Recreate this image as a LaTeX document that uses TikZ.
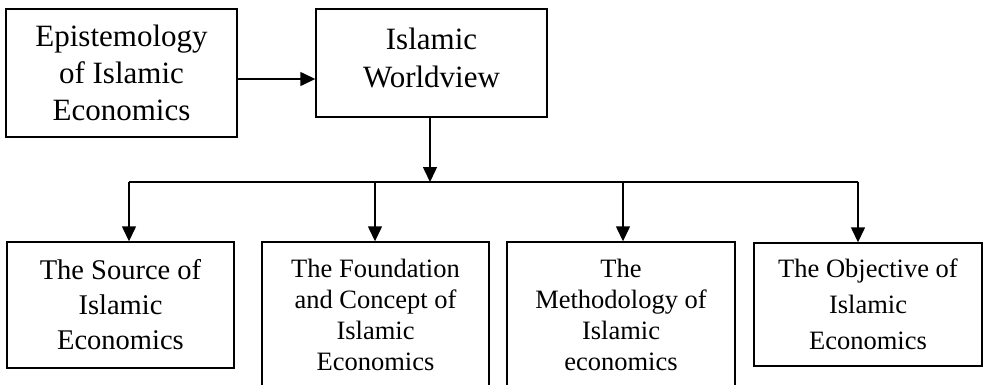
\documentclass[tikz,border=0pt]{standalone}
\usepackage{fontspec}
\setmainfont{Liberation Serif}
\usetikzlibrary{arrows.meta}

\begin{document}
\begin{tikzpicture}[x=1pt,y=-1pt,
    box/.style={draw,line width=1.4pt,inner sep=0pt,align=center},
    arr/.style={line width=1.4pt,-{Triangle[length=15pt,width=14pt]}}]

\useasboundingbox (0,0) rectangle (986,384);

% top row
\node[box,minimum width=231pt,minimum height=128pt,font=\fontsize{31}{37}\selectfont]
    (epis) at (121.5,73) {Epistemology\\of Islamic\\Economics};
\node[box,minimum width=231pt,minimum height=108pt,text depth=10pt,font=\fontsize{31}{38}\selectfont]
    (world) at (431.5,63) {Islamic\\Worldview};

% bottom row
\node[box,minimum width=227pt,minimum height=126pt,font=\fontsize{28.5}{35}\selectfont]
    (src) at (120.5,305) {The Source of\\Islamic\\Economics};
\node[box,minimum width=227pt,minimum height=146pt,font=\fontsize{26.5}{31}\selectfont]
    (found) at (375.5,315) {The Foundation\\and Concept of\\Islamic\\Economics};
\node[box,minimum width=228pt,minimum height=146pt,font=\fontsize{26.5}{31}\selectfont]
    (meth) at (621,315) {The\\Methodology of\\Islamic\\economics};
\node[box,minimum width=228pt,minimum height=123pt,font=\fontsize{26.5}{36}\selectfont]
    (obj) at (868,304.5) {The Objective of\\Islamic\\Economics};

% branch points
\coordinate (bus) at (430,182);
\coordinate (b1) at (129,182);
\coordinate (b2) at (375,182);
\coordinate (b3) at (623,182);
\coordinate (b4) at (858,182);

% connectors
\draw[arr] ([yshift=-6pt]epis.east) -- ([yshift=-6pt]epis.east -| world.west);
\draw[arr] (bus |- world.south) -- (bus);
\draw[line width=1.4pt] (b1) -- (b4);
\draw[arr] (b1) -- (b1 |- src.north);
\draw[arr] (b2) -- (b2 |- found.north);
\draw[arr] (b3) -- (b3 |- meth.north);
\draw[arr] (b4) -- (b4 |- obj.north);

\end{tikzpicture}
\end{document}
